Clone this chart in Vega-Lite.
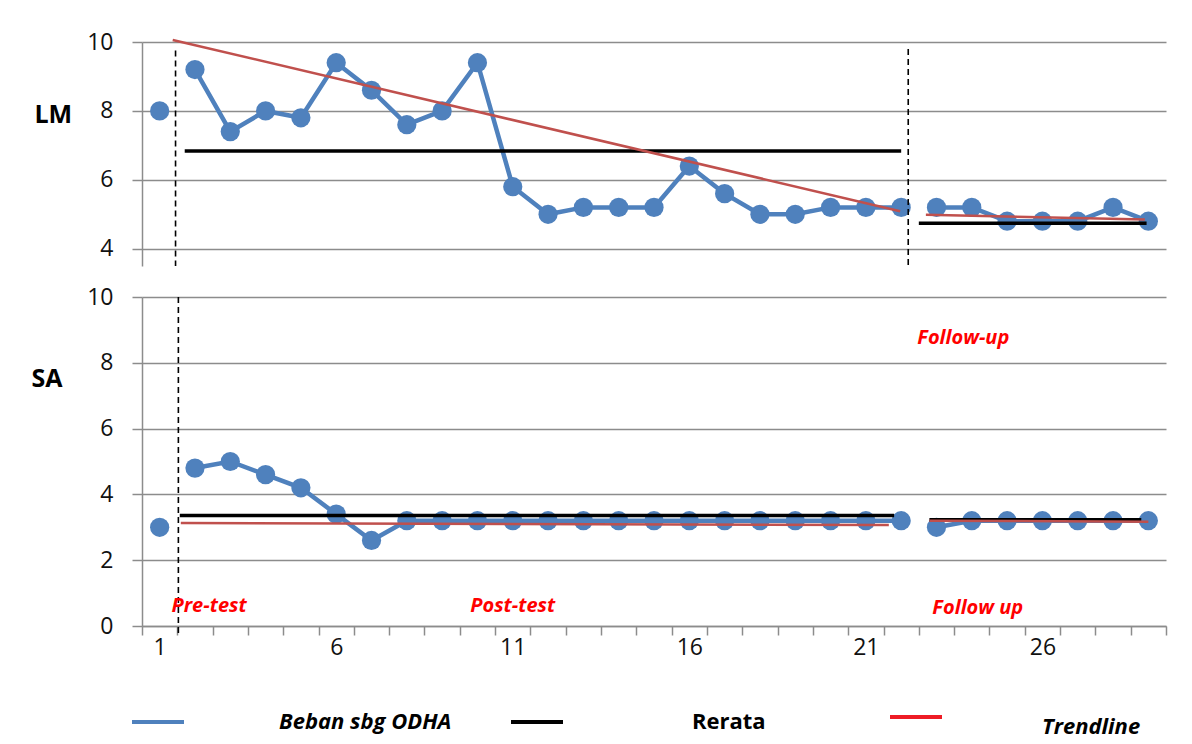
{
  "$schema": "https://vega.github.io/schema/vega-lite/v6.json",
  "background": "white",
  "padding": {"left": 31, "top": 31, "right": 10, "bottom": 4},
  "bounds": "flush",
  "spacing": 31,
  "datasets": {
    "obs": [
      {"panel": "LM", "series": "Beban sbg ODHA", "phase": "pre", "k": 1, "v": 8.0},
      {"panel": "LM", "series": "Beban sbg ODHA", "phase": "post", "k": 2, "v": 9.2},
      {"panel": "LM", "series": "Beban sbg ODHA", "phase": "post", "k": 3, "v": 7.4},
      {"panel": "LM", "series": "Beban sbg ODHA", "phase": "post", "k": 4, "v": 8.0},
      {"panel": "LM", "series": "Beban sbg ODHA", "phase": "post", "k": 5, "v": 7.8},
      {"panel": "LM", "series": "Beban sbg ODHA", "phase": "post", "k": 6, "v": 9.4},
      {"panel": "LM", "series": "Beban sbg ODHA", "phase": "post", "k": 7, "v": 8.6},
      {"panel": "LM", "series": "Beban sbg ODHA", "phase": "post", "k": 8, "v": 7.6},
      {"panel": "LM", "series": "Beban sbg ODHA", "phase": "post", "k": 9, "v": 8.0},
      {"panel": "LM", "series": "Beban sbg ODHA", "phase": "post", "k": 10, "v": 9.4},
      {"panel": "LM", "series": "Beban sbg ODHA", "phase": "post", "k": 11, "v": 5.8},
      {"panel": "LM", "series": "Beban sbg ODHA", "phase": "post", "k": 12, "v": 5.0},
      {"panel": "LM", "series": "Beban sbg ODHA", "phase": "post", "k": 13, "v": 5.2},
      {"panel": "LM", "series": "Beban sbg ODHA", "phase": "post", "k": 14, "v": 5.2},
      {"panel": "LM", "series": "Beban sbg ODHA", "phase": "post", "k": 15, "v": 5.2},
      {"panel": "LM", "series": "Beban sbg ODHA", "phase": "post", "k": 16, "v": 6.4},
      {"panel": "LM", "series": "Beban sbg ODHA", "phase": "post", "k": 17, "v": 5.6},
      {"panel": "LM", "series": "Beban sbg ODHA", "phase": "post", "k": 18, "v": 5.0},
      {"panel": "LM", "series": "Beban sbg ODHA", "phase": "post", "k": 19, "v": 5.0},
      {"panel": "LM", "series": "Beban sbg ODHA", "phase": "post", "k": 20, "v": 5.2},
      {"panel": "LM", "series": "Beban sbg ODHA", "phase": "post", "k": 21, "v": 5.2},
      {"panel": "LM", "series": "Beban sbg ODHA", "phase": "post", "k": 22, "v": 5.2},
      {"panel": "LM", "series": "Beban sbg ODHA", "phase": "fu", "k": 23, "v": 5.2},
      {"panel": "LM", "series": "Beban sbg ODHA", "phase": "fu", "k": 24, "v": 5.2},
      {"panel": "LM", "series": "Beban sbg ODHA", "phase": "fu", "k": 25, "v": 4.8},
      {"panel": "LM", "series": "Beban sbg ODHA", "phase": "fu", "k": 26, "v": 4.8},
      {"panel": "LM", "series": "Beban sbg ODHA", "phase": "fu", "k": 27, "v": 4.8},
      {"panel": "LM", "series": "Beban sbg ODHA", "phase": "fu", "k": 28, "v": 5.2},
      {"panel": "LM", "series": "Beban sbg ODHA", "phase": "fu", "k": 29, "v": 4.8},
      {"panel": "SA", "series": "Beban sbg ODHA", "phase": "pre", "k": 1, "v": 3.0},
      {"panel": "SA", "series": "Beban sbg ODHA", "phase": "post", "k": 2, "v": 4.8},
      {"panel": "SA", "series": "Beban sbg ODHA", "phase": "post", "k": 3, "v": 5.0},
      {"panel": "SA", "series": "Beban sbg ODHA", "phase": "post", "k": 4, "v": 4.6},
      {"panel": "SA", "series": "Beban sbg ODHA", "phase": "post", "k": 5, "v": 4.2},
      {"panel": "SA", "series": "Beban sbg ODHA", "phase": "post", "k": 6, "v": 3.4},
      {"panel": "SA", "series": "Beban sbg ODHA", "phase": "post", "k": 7, "v": 2.6},
      {"panel": "SA", "series": "Beban sbg ODHA", "phase": "post", "k": 8, "v": 3.2},
      {"panel": "SA", "series": "Beban sbg ODHA", "phase": "post", "k": 9, "v": 3.2},
      {"panel": "SA", "series": "Beban sbg ODHA", "phase": "post", "k": 10, "v": 3.2},
      {"panel": "SA", "series": "Beban sbg ODHA", "phase": "post", "k": 11, "v": 3.2},
      {"panel": "SA", "series": "Beban sbg ODHA", "phase": "post", "k": 12, "v": 3.2},
      {"panel": "SA", "series": "Beban sbg ODHA", "phase": "post", "k": 13, "v": 3.2},
      {"panel": "SA", "series": "Beban sbg ODHA", "phase": "post", "k": 14, "v": 3.2},
      {"panel": "SA", "series": "Beban sbg ODHA", "phase": "post", "k": 15, "v": 3.2},
      {"panel": "SA", "series": "Beban sbg ODHA", "phase": "post", "k": 16, "v": 3.2},
      {"panel": "SA", "series": "Beban sbg ODHA", "phase": "post", "k": 17, "v": 3.2},
      {"panel": "SA", "series": "Beban sbg ODHA", "phase": "post", "k": 18, "v": 3.2},
      {"panel": "SA", "series": "Beban sbg ODHA", "phase": "post", "k": 19, "v": 3.2},
      {"panel": "SA", "series": "Beban sbg ODHA", "phase": "post", "k": 20, "v": 3.2},
      {"panel": "SA", "series": "Beban sbg ODHA", "phase": "post", "k": 21, "v": 3.2},
      {"panel": "SA", "series": "Beban sbg ODHA", "phase": "post", "k": 22, "v": 3.2},
      {"panel": "SA", "series": "Beban sbg ODHA", "phase": "fu", "k": 23, "v": 3.0},
      {"panel": "SA", "series": "Beban sbg ODHA", "phase": "fu", "k": 24, "v": 3.2},
      {"panel": "SA", "series": "Beban sbg ODHA", "phase": "fu", "k": 25, "v": 3.2},
      {"panel": "SA", "series": "Beban sbg ODHA", "phase": "fu", "k": 26, "v": 3.2},
      {"panel": "SA", "series": "Beban sbg ODHA", "phase": "fu", "k": 27, "v": 3.2},
      {"panel": "SA", "series": "Beban sbg ODHA", "phase": "fu", "k": 28, "v": 3.2},
      {"panel": "SA", "series": "Beban sbg ODHA", "phase": "fu", "k": 29, "v": 3.2}
    ],
    "ref": [
      {"panel": "LM", "series": "Rerata", "phase": "post", "k": 1.71, "k2": 22.0, "v": 6.84, "v2": 6.84},
      {"panel": "LM", "series": "Trendline", "phase": "post", "k": 1.37, "k2": 21.97, "v": 10.06, "v2": 5.09},
      {"panel": "LM", "series": "Rerata", "phase": "fu", "k": 22.5, "k2": 28.95, "v": 4.74, "v2": 4.74},
      {"panel": "LM", "series": "Trendline", "phase": "fu", "k": 22.7, "k2": 28.9, "v": 4.99, "v2": 4.85},
      {"panel": "SA", "series": "Rerata", "phase": "post", "k": 1.57, "k2": 21.8, "v": 3.36, "v2": 3.36},
      {"panel": "SA", "series": "Trendline", "phase": "post", "k": 1.6, "k2": 21.65, "v": 3.13, "v2": 3.07},
      {"panel": "SA", "series": "Rerata", "phase": "fu", "k": 22.8, "k2": 28.8, "v": 3.23, "v2": 3.23},
      {"panel": "SA", "series": "Trendline", "phase": "fu", "k": 22.8, "k2": 29.0, "v": 3.2, "v2": 3.17}
    ],
    "dividers": [
      {"panel": "LM", "k": 1.45, "v": 9.75, "v2": 3.5},
      {"panel": "LM", "k": 22.2, "v": 9.8, "v2": 3.5},
      {"panel": "SA", "k": 1.53, "v": 10, "v2": -0.3}
    ],
    "notes": [
      {"panel": "SA", "label": "Pre-test", "k": 2.4, "v": 0.61},
      {"panel": "SA", "label": "Post-test", "k": 11.0, "v": 0.61},
      {"panel": "SA", "label": "Follow up", "k": 24.17, "v": 0.55},
      {"panel": "SA", "label": "Follow-up", "k": 23.76, "v": 8.75}
    ]
  },
  "vconcat": [
    {
      "width": 1024,
      "height": 224,
      "layer": [
        {
          "data": {"name": "obs"},
          "transform": [{"filter": "datum.panel === 'LM'"}],
          "mark": {"type": "line", "strokeWidth": 4.5},
          "encoding": {
            "x": {"field": "k", "type": "quantitative", "scale": {"domain": [0.5, 29.5], "nice": false, "zero": false}, "axis": null},
            "y": {"field": "v", "type": "quantitative", "scale": {"domain": [3.5, 10], "nice": false, "zero": false},
                  "axis": {"values": [4, 6, 8, 10], "title": "LM", "titleX": -108, "titleY": 72}},
            "detail": {"field": "phase"},
            "color": {"field": "series", "type": "nominal",
                      "scale": {"domain": ["Beban sbg ODHA", "Rerata", "Trendline"], "range": ["#4F81BD", "#000000", "#EE1C25"]},
                      "legend": {"encode": {
                        "labels": {"update": {
                          "fontStyle": {"signal": "datum.label === 'Rerata' ? 'normal' : 'italic'"},
                          "dx": {"signal": "datum.label === 'Rerata' ? 34 : datum.label === 'Trendline' ? 5 : 0"},
                          "dy": {"signal": "datum.label === 'Trendline' ? 10 : 0"}
                        }}
                      }}}
          }
        },
        {
          "data": {"name": "obs"},
          "transform": [{"filter": "datum.panel === 'LM'"}],
          "mark": {"type": "point", "filled": true, "opacity": 1, "size": 370, "color": "#4F81BD"},
          "encoding": {
            "x": {"field": "k", "type": "quantitative"},
            "y": {"field": "v", "type": "quantitative"}
          }
        },
        {
          "data": {"name": "ref"},
          "transform": [{"filter": "datum.panel === 'LM' && datum.series === 'Rerata'"}],
          "mark": {"type": "rule", "strokeWidth": 3.5},
          "encoding": {
            "x": {"field": "k", "type": "quantitative"},
            "x2": {"field": "k2"},
            "y": {"field": "v", "type": "quantitative"},
            "y2": {"field": "v2"},
            "color": {"field": "series", "type": "nominal"}
          }
        },
        {
          "data": {"name": "ref"},
          "transform": [{"filter": "datum.panel === 'LM' && datum.series === 'Trendline'"}],
          "mark": {"type": "rule", "strokeWidth": 2.5, "color": "#C0504D"},
          "encoding": {
            "x": {"field": "k", "type": "quantitative"},
            "x2": {"field": "k2"},
            "y": {"field": "v", "type": "quantitative"},
            "y2": {"field": "v2"}
          }
        },
        {
          "data": {"name": "dividers"},
          "transform": [{"filter": "datum.panel === 'LM'"}],
          "mark": {"type": "rule", "strokeWidth": 1.6, "strokeDash": [6, 4], "color": "#000000"},
          "encoding": {
            "x": {"field": "k", "type": "quantitative"},
            "y": {"field": "v", "type": "quantitative"},
            "y2": {"field": "v2"}
          }
        }
      ]
    },
    {
      "width": 1024,
      "height": 329,
      "layer": [
        {
          "data": {"name": "obs"},
          "transform": [{"filter": "datum.panel === 'SA'"}],
          "mark": {"type": "line", "strokeWidth": 4.5},
          "encoding": {
            "x": {"field": "k", "type": "quantitative", "scale": {"domain": [0.5, 29.5], "nice": false, "zero": false},
                  "axis": {"values": [0.5, 1.5, 2.5, 3.5, 4.5, 5.5, 6.5, 7.5, 8.5, 9.5, 10.5, 11.5, 12.5, 13.5, 14.5, 15.5, 16.5, 17.5, 18.5, 19.5, 20.5, 21.5, 22.5, 23.5, 24.5, 25.5, 26.5, 27.5, 28.5, 29.5],
                           "tickCount": 40,
                           "labelExpr": "(datum.value - 0.5) % 5 === 0 ? format(datum.value + 0.5, 'd') : ''",
                           "labelOffset": 17.66, "labelFlush": false, "labelOverlap": false, "labelBound": false,
                           "grid": false, "tickSize": 9, "labelPadding": 1, "title": null}},
            "y": {"field": "v", "type": "quantitative", "scale": {"domain": [0, 10], "nice": false},
                  "axis": {"values": [0, 2, 4, 6, 8, 10], "title": "SA", "titleX": -111, "titleY": 81}},
            "detail": {"field": "phase"},
            "color": {"field": "series", "type": "nominal"}
          }
        },
        {
          "data": {"name": "obs"},
          "transform": [{"filter": "datum.panel === 'SA'"}],
          "mark": {"type": "point", "filled": true, "opacity": 1, "size": 370, "color": "#4F81BD"},
          "encoding": {
            "x": {"field": "k", "type": "quantitative"},
            "y": {"field": "v", "type": "quantitative"}
          }
        },
        {
          "data": {"name": "ref"},
          "transform": [{"filter": "datum.panel === 'SA' && datum.series === 'Rerata'"}],
          "mark": {"type": "rule", "strokeWidth": 3.5},
          "encoding": {
            "x": {"field": "k", "type": "quantitative"},
            "x2": {"field": "k2"},
            "y": {"field": "v", "type": "quantitative"},
            "y2": {"field": "v2"},
            "color": {"field": "series", "type": "nominal"}
          }
        },
        {
          "data": {"name": "ref"},
          "transform": [{"filter": "datum.panel === 'SA' && datum.series === 'Trendline'"}],
          "mark": {"type": "rule", "strokeWidth": 2.5, "color": "#C0504D"},
          "encoding": {
            "x": {"field": "k", "type": "quantitative"},
            "x2": {"field": "k2"},
            "y": {"field": "v", "type": "quantitative"},
            "y2": {"field": "v2"}
          }
        },
        {
          "data": {"name": "dividers"},
          "transform": [{"filter": "datum.panel === 'SA'"}],
          "mark": {"type": "rule", "strokeWidth": 1.6, "strokeDash": [6, 4], "color": "#000000"},
          "encoding": {
            "x": {"field": "k", "type": "quantitative"},
            "y": {"field": "v", "type": "quantitative"},
            "y2": {"field": "v2"}
          }
        },
        {
          "data": {"name": "notes"},
          "mark": {"type": "text", "font": "Open Sans", "fontSize": 20, "fontWeight": "bold", "fontStyle": "italic", "color": "#FF0000", "align": "center", "baseline": "middle"},
          "encoding": {
            "x": {"field": "k", "type": "quantitative"},
            "y": {"field": "v", "type": "quantitative"},
            "text": {"field": "label"}
          }
        }
      ]
    }
  ],
  "resolve": {
    "scale": {"x": "shared", "y": "independent", "color": "shared"},
    "axis": {"x": "independent", "y": "independent"}
  },
  "config": {
    "font": "Open Sans",
    "view": {"stroke": null},
    "axis": {
      "labelFont": "Open Sans",
      "labelFontSize": 23,
      "labelColor": "#111111",
      "domainColor": "#8C8C8C",
      "domainWidth": 1.5,
      "tickColor": "#8C8C8C",
      "tickWidth": 1.5,
      "gridColor": "#8C8C8C",
      "gridWidth": 1.5,
      "gridOpacity": 1
    },
    "axisY": {
      "tickSize": 10,
      "labelPadding": 19,
      "titleAngle": 0,
      "titleAlign": "left",
      "titleBaseline": "middle",
      "titleFont": "Open Sans",
      "titleFontSize": 25,
      "titleFontWeight": "bold",
      "titleColor": "#000000"
    },
    "legend": {
      "orient": "none",
      "legendX": -12,
      "legendY": 647,
      "direction": "horizontal",
      "title": null,
      "padding": 0,
      "symbolType": "stroke",
      "symbolSize": 2704,
      "symbolStrokeWidth": 4,
      "labelOffset": 93,
      "columnPadding": 51,
      "gridAlign": "all",
      "labelFont": "Open Sans",
      "labelFontSize": 22,
      "labelFontWeight": "bold",
      "labelColor": "#000000",
      "labelLimit": 400
    }
  }
}
